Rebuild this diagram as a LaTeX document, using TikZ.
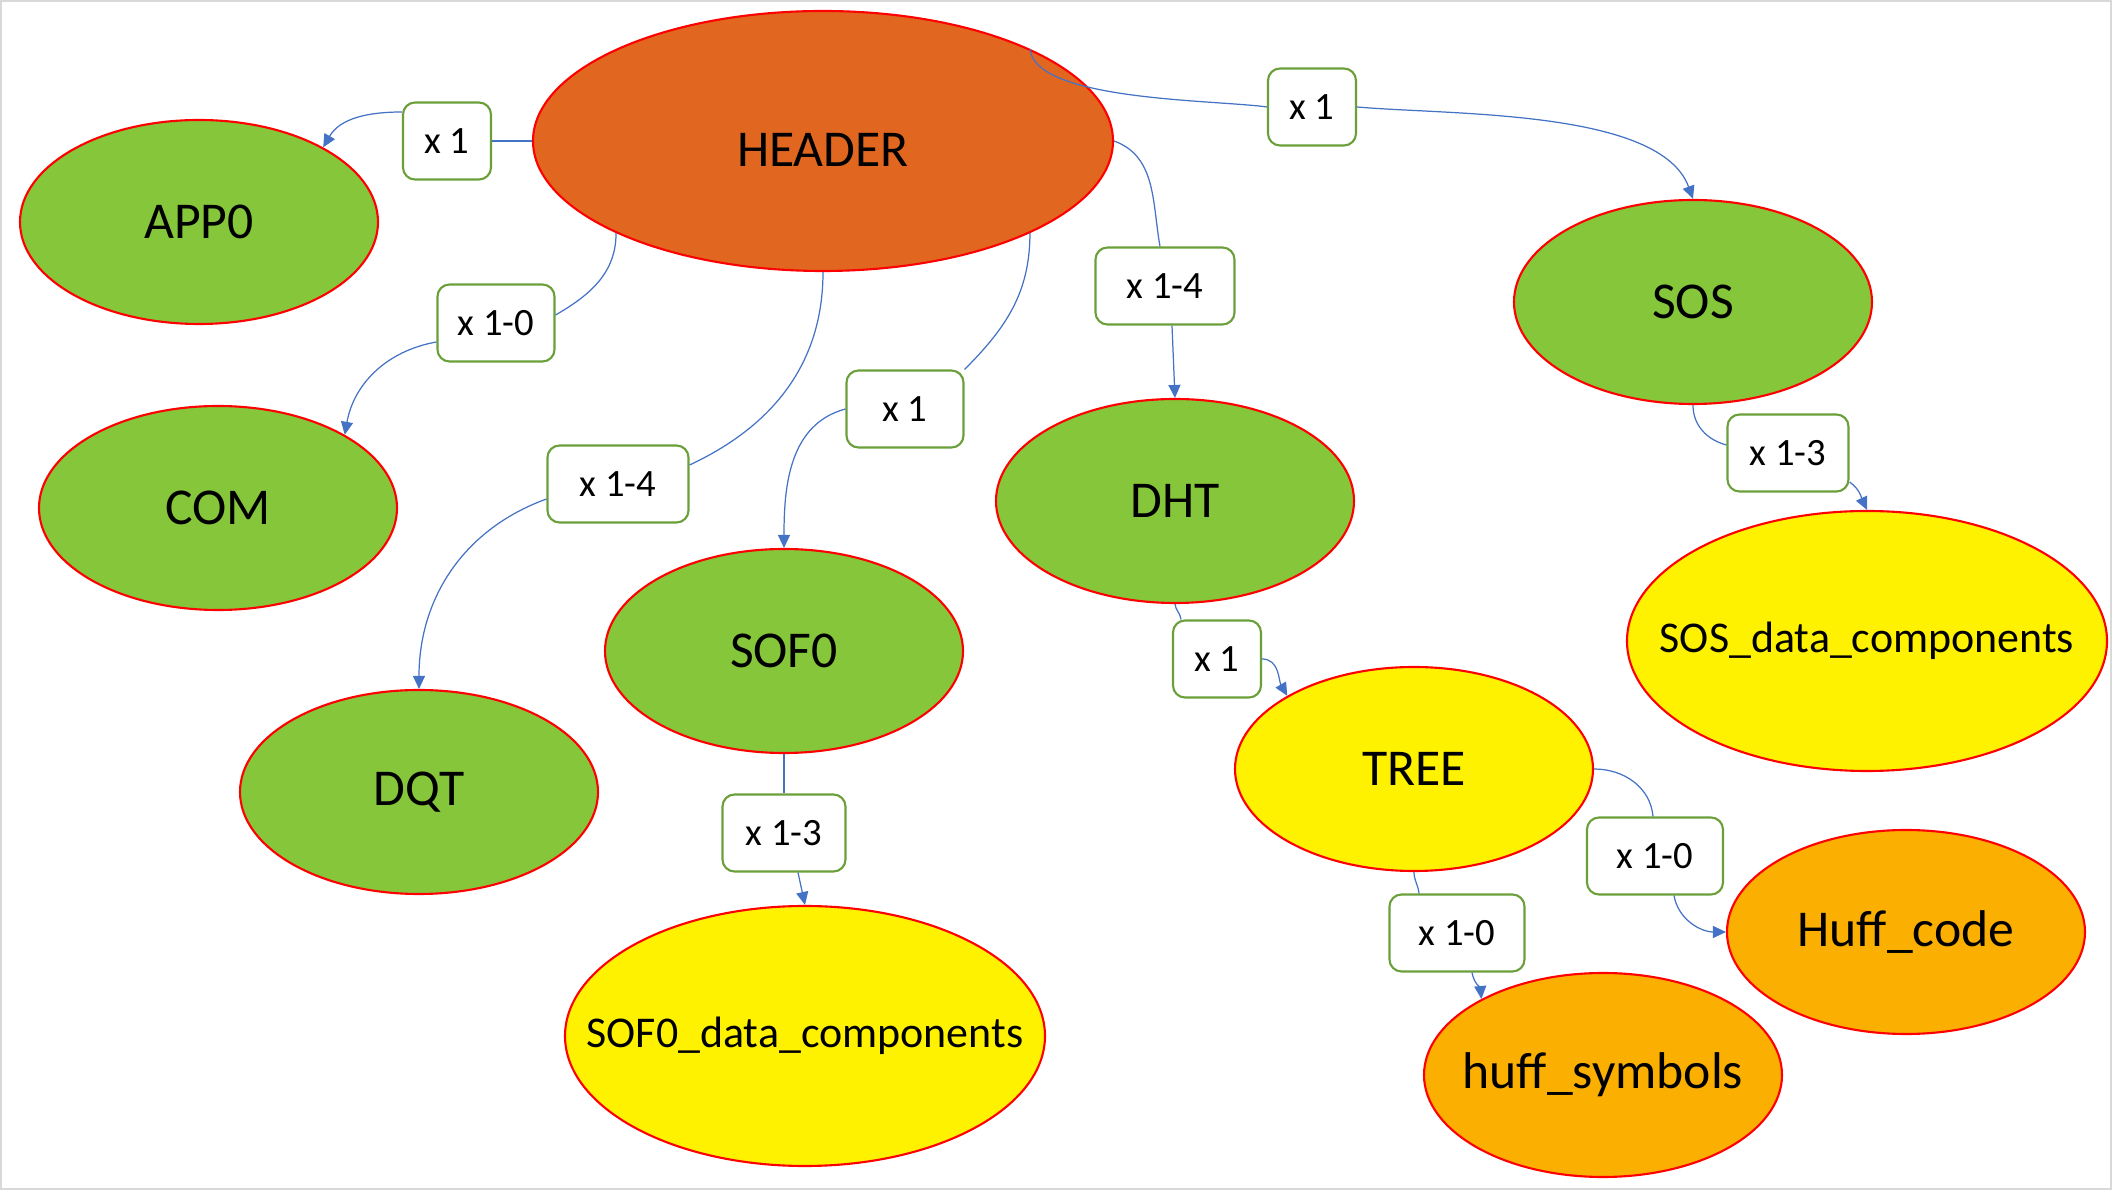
\documentclass[tikz,border=0pt]{standalone}
\usepackage{fontspec}
\setmainfont{Carlito}
\usepackage{tikz}
\usetikzlibrary{shapes,positioning}
\usetikzlibrary{arrows.meta}
\tikzset{>={Triangle[width=1.2mm,length=1.3mm]}}
\definecolor{hdrorange}{HTML}{E16720}
\definecolor{leafgreen}{HTML}{86C63A}
\definecolor{huffgold}{HTML}{FBAF00}
\definecolor{boxgreen}{HTML}{6A9F3A}
\definecolor{linkblue}{HTML}{4472C4}
\definecolor{framegrey}{HTML}{D9D9D9}

\begin{document}
\begin{tikzpicture}
    \tikzstyle{enode} = [ellipse, draw=red, line width=0.6pt, inner xsep=-5mm, inner ysep=0pt, minimum width=3.58cm, minimum height=2.04cm, font=\fontsize{14.7}{17}\selectfont]
    \tikzstyle{hnode} = [enode, fill=hdrorange, minimum width=5.8cm, minimum height=2.6cm, text height=0.52cm]
    \tikzstyle{gnode} = [enode, fill=leafgreen]
    \tikzstyle{ynode} = [enode, fill=yellow]
    \tikzstyle{onode} = [enode, fill=huffgold]
    \tikzstyle{dnode} = [ynode, minimum width=4.8cm, minimum height=2.6cm, font=\fontsize{12.5}{15}\selectfont]
    \tikzstyle{xbox} = [rectangle, rounded corners=1.2mm, draw=boxgreen, line width=0.6pt, fill=white, minimum height=0.77cm, inner xsep=1.5mm, font=\fontsize{11}{13}\selectfont]
    \tikzstyle{link} = [draw=linkblue, line width=0.35pt]

    \useasboundingbox (0,0) rectangle (21.12,-11.90);
    \draw[framegrey, line width=0.4mm] (0,0) rectangle (21.12,-11.90);

    \node[hnode] (hdr) at (8.23,-1.41) {HEADER};
    \node[gnode] (app) at (1.99,-2.22) {APP0};
    \node[gnode] (com) at (2.18,-5.08) {COM};
    \node[gnode] (dqt) at (4.19,-7.92) {DQT};
    \node[gnode] (sof) at (7.84,-6.51) {SOF0};
    \node[dnode] (sofd) at (8.05,-10.36) {SOF0\_data\_components};
    \node[gnode] (dht) at (11.75,-5.01) {DHT};
    \node[gnode] (sos) at (16.93,-3.02) {SOS};
    \node[dnode] (sosd) at (18.67,-6.41) {SOS\_data\_components};
    \node[ynode] (tree) at (14.14,-7.69) {TREE};
    \node[onode] (hc) at (19.06,-9.32) {Huff\_code};
    \node[onode] (hs) at (16.03,-10.75) {huff\_symbols};

    \node[xbox, minimum width=0.88cm] (xapp) at (4.47,-1.41) {x 1};
    \node[xbox, minimum width=0.88cm] (xsos) at (13.12,-1.07) {x 1};
    \node[xbox, minimum width=1.17cm] (xcom) at (4.96,-3.23) {x 1-0};
    \node[xbox, minimum width=1.39cm] (xdht) at (11.65,-2.86) {x 1-4};
    \node[xbox, minimum width=1.17cm] (xsof) at (9.05,-4.09) {x 1};
    \node[xbox, minimum width=1.41cm] (xdqt) at (6.18,-4.84) {x 1-4};
    \node[xbox, minimum width=1.21cm] (xsosd) at (17.88,-4.53) {x 1-3};
    \node[xbox, minimum width=0.88cm] (xtree) at (12.17,-6.59) {x 1};
    \node[xbox, minimum width=1.23cm] (xsofd) at (7.84,-8.33) {x 1-3};
    \node[xbox, minimum width=1.36cm] (xhc) at (16.55,-8.56) {x 1-0};
    \node[xbox, minimum width=1.35cm] (xhs) at (14.57,-9.33) {x 1-0};

    % header links
    \draw[link] (hdr.west) to (xapp.east);
    \draw[link,->] ([yshift=2.9mm]xapp.west) to[out=180, in=60] (app.31);
    \draw[link] (hdr.24) to[out=-85, in=172, looseness=0.55] (xsos.west);
    \draw[link,->] (xsos.east) to[out=-5, in=110, looseness=0.7] (sos.north);
    \draw[link] (hdr.204) to[out=-90, in=30] ([yshift=0.8mm]xcom.east);
    \draw[link,->] ([yshift=-1.9mm]xcom.west) to[out=190, in=80] (com.30);
    \draw[link] (hdr.south) to[out=-90, in=25] ([yshift=1.9mm]xdqt.east);
    \draw[link,->] ([yshift=-1.5mm]xdqt.west) to[out=200, in=90] (dqt.north);
    \draw[link] (hdr.-24) to[out=-90, in=45] (xsof.north east);
    \draw[link,->] (xsof.west) to[out=195, in=90] (sof.north);
    \draw[link] (hdr.east) to[out=-20, in=100] ([xshift=-0.5mm]xdht.north);
    \draw[link,->] ([xshift=0.7mm]xdht.south) to (dht.north);

    % lower links
    \draw[link] (sof.south) to (xsofd.north);
    \draw[link,->] ([xshift=1.4mm]xsofd.south) to (sofd.north);
    \draw[link] (dht.south) to[out=-85, in=95] ([xshift=-3.6mm]xtree.north);
    \draw[link,->] (xtree.east) to[out=0, in=120] (tree.150);
    \draw[link] (sos.south) to[out=-90, in=165] ([yshift=0.8mm]xsosd.west);
    \draw[link,->] ([yshift=-2.9mm]xsosd.east) to[out=-35, in=115] (sosd.north);
    \draw[link] (tree.east) to[out=0, in=95] ([xshift=-0.2mm]xhc.north);
    \draw[link,->] ([xshift=1.9mm]xhc.south) to[out=-80, in=180] (hc.west);
    \draw[link] (tree.south) to[out=-90, in=95] ([xshift=-3.8mm]xhs.north);
    \draw[link,->] ([xshift=1.5mm]xhs.south) to[out=-80, in=95] (hs.148);
\end{tikzpicture}
\end{document}
